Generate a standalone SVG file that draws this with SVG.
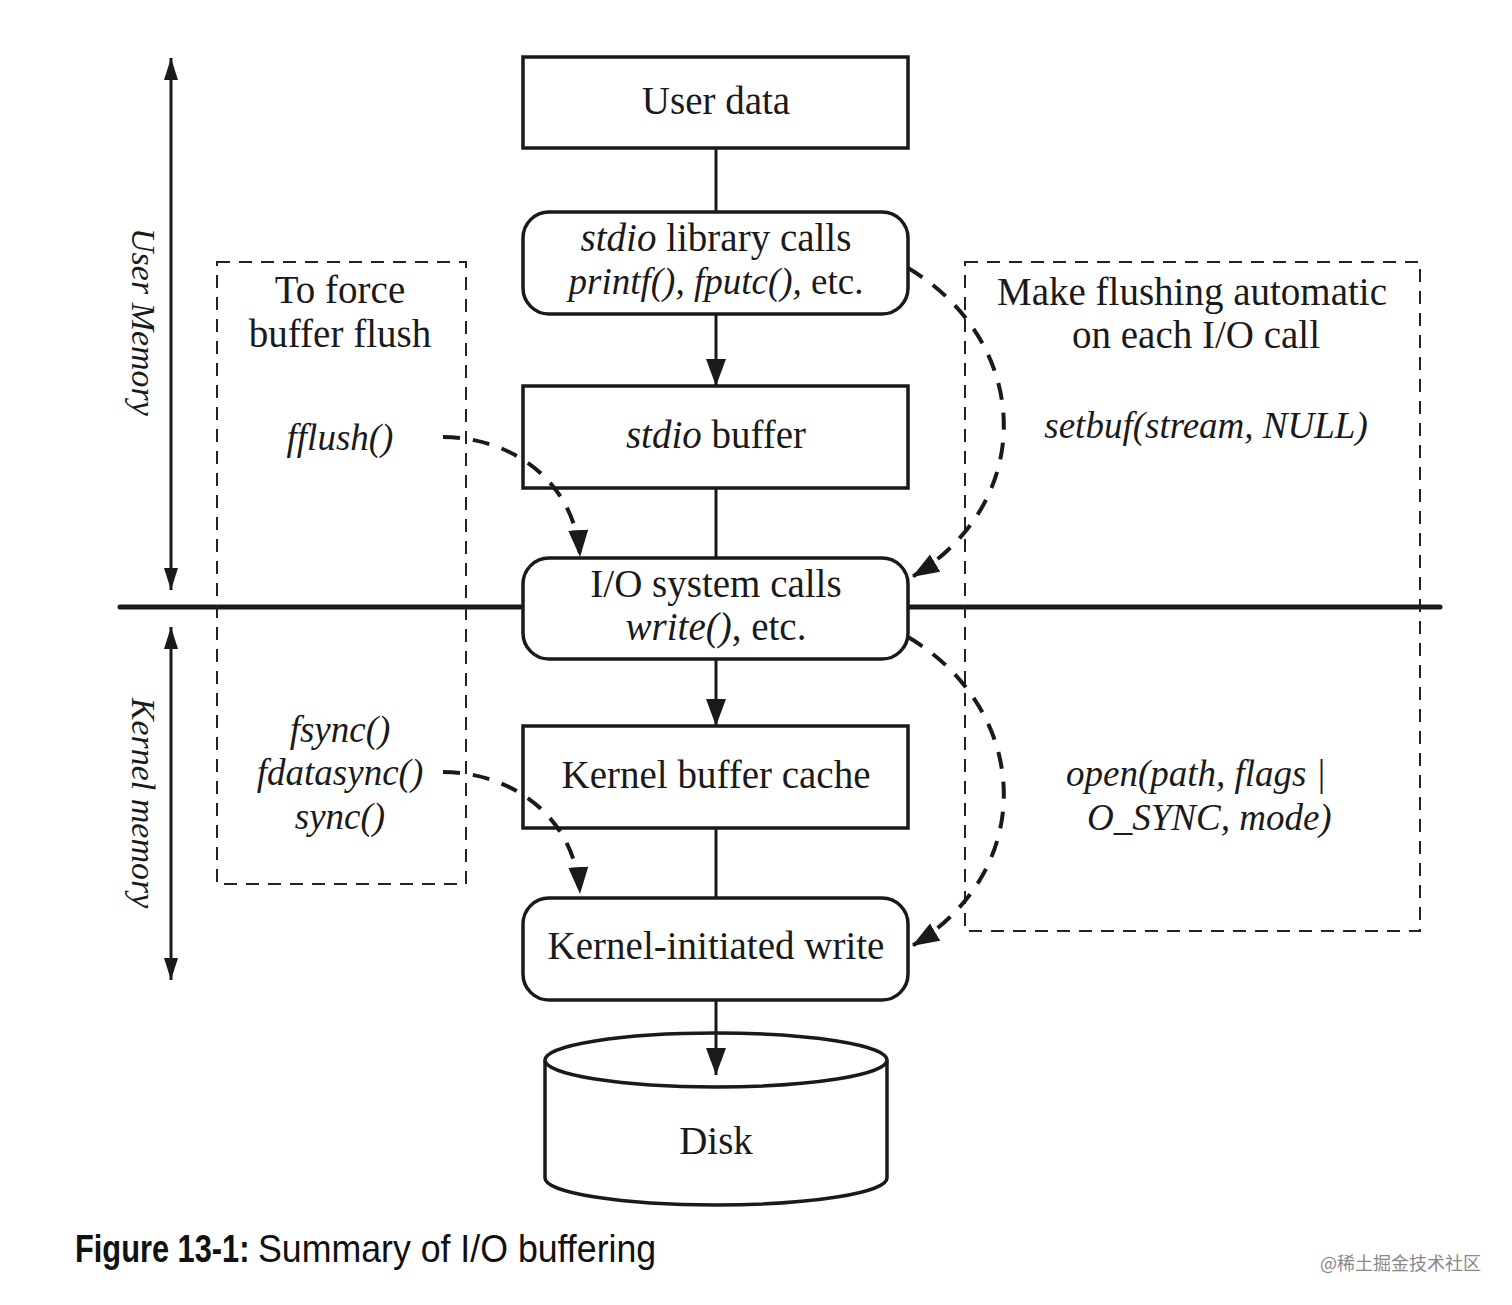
<svg xmlns="http://www.w3.org/2000/svg" width="1512" height="1305" viewBox="0 0 1512 1305">
<style>
.box{fill:#fff;stroke:#1a1a1a;stroke-width:3.5}
.t{font-family:"Liberation Serif","Times New Roman",serif;font-size:39px;fill:#1a1a1a;text-anchor:middle}
.i{font-style:italic}
.it{font-style:italic;font-size:37px}
.rot{font-style:italic;font-size:34px}
.conn{stroke:#1a1a1a;stroke-width:3;fill:none}
.dash{stroke:#1a1a1a;stroke-width:4;fill:none;stroke-dasharray:17 13}
.dbox{fill:none;stroke:#222;stroke-width:2;stroke-dasharray:13 9}
.cap{font-family:"Liberation Sans",Arial,sans-serif;font-size:38px;fill:#111}
</style>
<defs>
<marker id="ah" markerUnits="userSpaceOnUse" markerWidth="30" markerHeight="24" refX="27" refY="10" orient="auto">
<path d="M0,0 L27,10 L0,20 Z" fill="#1a1a1a"/>
</marker>
<marker id="ahs" markerUnits="userSpaceOnUse" markerWidth="26" markerHeight="20" refX="22" refY="7" orient="auto-start-reverse">
<path d="M0,0 L22,7 L0,14 Z" fill="#1a1a1a"/>
</marker>
</defs>
<rect width="1512" height="1305" fill="#fff"/>

<g id="regions">
<line x1="120" y1="607" x2="1440" y2="607" stroke="#1a1a1a" stroke-width="5" stroke-linecap="round"/>
<line x1="171" y1="58" x2="171" y2="590" class="conn" stroke-width="2" marker-start="url(#ahs)" marker-end="url(#ahs)"/>
<line x1="171" y1="627" x2="171" y2="980" class="conn" stroke-width="2" marker-start="url(#ahs)" marker-end="url(#ahs)"/>
<text class="t rot" transform="translate(132,322) rotate(90)">User Memory</text>
<text class="t rot" transform="translate(132,803) rotate(90)">Kernel memory</text>
</g>

<g id="force-box">
<rect x="217" y="262" width="249" height="622" class="dbox"/>
<text class="t" x="340" y="303">To force</text>
<text class="t" x="340" y="347">buffer flush</text>
<text class="t it" x="340" y="450">fflush()</text>
<text class="t it" x="340" y="742">fsync()</text>
<text class="t it" x="340" y="785">fdatasync()</text>
<text class="t it" x="340" y="829">sync()</text>
</g>

<g id="auto-box">
<rect x="965" y="262" width="455" height="669" class="dbox"/>
<text class="t" x="1192" y="305">Make flushing automatic</text>
<text class="t" x="1196" y="348">on each I/O call</text>
<text class="t it" x="1206" y="438">setbuf(stream, NULL)</text>
<text class="t it" x="1066" y="786" style="text-anchor:start">open(path, flags |</text>
<text class="t it" x="1087" y="830" style="text-anchor:start">O_SYNC, mode)</text>
</g>

<g id="user-data">
<rect x="523" y="57" width="385" height="91" class="box"/>
<text class="t" x="716" y="114">User data</text>
</g>
<g id="stdio-lib">
<rect x="523" y="212" width="385" height="102" rx="26" class="box"/>
<text class="t" x="716" y="251"><tspan class="i">stdio</tspan> library calls</text>
<text class="t it" x="716" y="294">printf(), fputc(), <tspan font-style="normal">etc.</tspan></text>
</g>
<g id="stdio-buffer">
<rect x="523" y="386" width="385" height="102" class="box"/>
<text class="t" x="716" y="448"><tspan class="i">stdio</tspan> buffer</text>
</g>
<g id="io-syscalls">
<rect x="523" y="558" width="385" height="101" rx="26" class="box"/>
<text class="t" x="716" y="597">I/O system calls</text>
<text class="t" x="716" y="640"><tspan class="i">write()</tspan>, etc.</text>
</g>
<g id="kernel-cache">
<rect x="523" y="726" width="385" height="102" class="box"/>
<text class="t" x="716" y="788">Kernel buffer cache</text>
</g>
<g id="kernel-write">
<rect x="523" y="898" width="385" height="102" rx="26" class="box"/>
<text class="t" x="716" y="959">Kernel-initiated write</text>
</g>
<g id="disk">
<path d="M545 1060 L545 1178 A171 27 0 0 0 887 1178 L887 1060" class="box"/>
<ellipse cx="716" cy="1060" rx="171" ry="27" class="box" style="fill:none"/>
<text class="t" x="716" y="1154">Disk</text>
</g>

<g id="connectors">
<line x1="716" y1="148" x2="716" y2="212" class="conn"/>
<line x1="716" y1="314" x2="716" y2="386" class="conn" marker-end="url(#ah)"/>
<line x1="716" y1="488" x2="716" y2="558" class="conn"/>
<line x1="716" y1="659" x2="716" y2="726" class="conn" marker-end="url(#ah)"/>
<line x1="716" y1="828" x2="716" y2="898" class="conn"/>
<line x1="716" y1="1000" x2="716" y2="1075" class="conn" marker-end="url(#ah)"/>
<path d="M443 437 C510 437 575 480 580 557" class="dash" marker-end="url(#ah)"/>
<path d="M443 772 C510 772 575 815 580 894" class="dash" marker-end="url(#ah)"/>
<path d="M908 268 C1030 340 1040 500 912 577" class="dash" marker-end="url(#ah)"/>
<path d="M908 637 C1030 709 1040 869 912 946" class="dash" marker-end="url(#ah)"/>
</g>

<g id="caption">
<text class="cap" font-weight="bold" transform="translate(75,1262) scale(0.81,1)">Figure 13-1:</text>
<text class="cap" transform="translate(258,1262) scale(0.94,1)">Summary of I/O buffering</text>
<text x="1320" y="1270" font-family="Noto Sans CJK SC,sans-serif" font-size="18" fill="#888">@稀土掘金技术社区</text>
</g>
</svg>
